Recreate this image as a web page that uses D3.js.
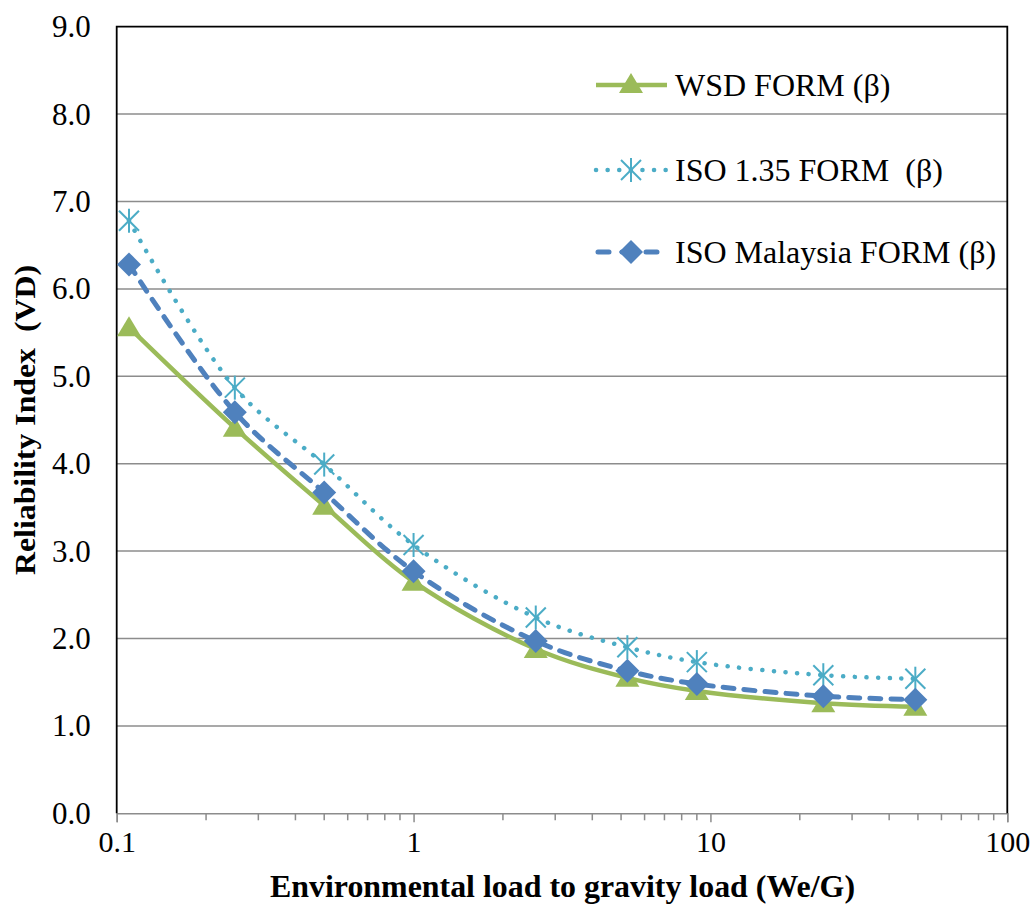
<!DOCTYPE html>
<html><head><meta charset="utf-8">
<script src="https://cdn.jsdelivr.net/npm/d3@7"></script>
<style>body{margin:0;background:#fff} text{white-space:pre}</style>
</head><body>
<svg id="c" width="1035" height="913"></svg>
<script>
const xValues = [0.11, 0.25, 0.5, 1.0, 2.58, 5.25, 9.0, 24, 49];
const wsd = [5.56, 4.41, 3.52, 2.65, 1.88, 1.55, 1.40, 1.26, 1.22];
const iso135 = [6.78, 4.87, 3.99, 3.07, 2.24, 1.90, 1.73, 1.58, 1.54];
const isoMalaysia = [6.28, 4.59, 3.67, 2.77, 1.97, 1.63, 1.48, 1.34, 1.30];
const seriesNames = ["WSD FORM (\u03b2)", "ISO 1.35 FORM  (\u03b2)", "ISO Malaysia FORM (\u03b2)"];
const yTicks = [0,1,2,3,4,5,6,7,8,9];
const xTicks = [0.1, 1, 10, 100];
const xTitle = "Environmental load to gravity load (We/G)";
const yTitle = "Reliability Index  (VD)";

const svg = d3.select("#c");
const L = 116.7, R = 1007.3, T = 26.7, B = 813.3;
const x = d3.scaleLog().domain([0.1, 100]).range([L, R]);
const y = d3.scaleLinear().domain([0, 9]).range([B, T]);
const font = "'Liberation Serif','Times New Roman',serif";

// gridlines
svg.append("g").selectAll("line").data(yTicks.filter(d => d > 0 && d < 9)).join("line")
  .attr("x1", L).attr("x2", R).attr("y1", d => y(d)).attr("y2", d => y(d))
  .attr("stroke", "#8c8c8c").attr("stroke-width", 1.5);

// bottom axis
const xAxis = d3.axisBottom(x).tickValues(xTicks).tickSize(9).tickFormat(d => d3.format("~g")(d));
const gx = svg.append("g").attr("transform", `translate(0,${B})`).call(xAxis);
gx.select(".domain").attr("stroke", "#8c8c8c").attr("stroke-width", 1.5);
gx.selectAll(".tick line").attr("stroke", "#8c8c8c").attr("stroke-width", 1.5);
gx.selectAll(".tick text").attr("font-family", font).attr("font-size", 30).attr("fill", "#000").attr("dy", "0.71em").attr("y", 17);
// minor ticks
const minors = [];
[0.1, 1, 10].forEach(b => { for (let k = 2; k <= 9; k++) minors.push(b * k); });
svg.append("g").selectAll("line").data(minors).join("line")
  .attr("x1", d => x(d)).attr("x2", d => x(d)).attr("y1", B).attr("y2", B + 7)
  .attr("stroke", "#8c8c8c").attr("stroke-width", 1.5);

// left axis labels
const yAxis = d3.axisLeft(y).tickValues(yTicks).tickSize(0).tickPadding(26).tickFormat(d3.format(".1f"));
const gy = svg.append("g").attr("transform", `translate(${L},0)`).call(yAxis);
gy.select(".domain").remove();
gy.selectAll(".tick text").attr("font-family", font).attr("font-size", 31).attr("fill", "#000");

// frame lines: left, top, right in black
svg.append("path").attr("d", `M${L},${B}V${T}H${R}V${B}`).attr("fill", "none")
  .attr("stroke", "#000").attr("stroke-width", 1.8);

// series
const curve = d3.curveCatmullRom.alpha(0.5);
const mk = vals => vals.map((v, i) => [xValues[i], v]);
const line = d3.line().x(d => x(d[0])).y(d => y(d[1])).curve(curve);

const green = "#9BBB59", cyan = "#4BACC6", blue = "#4F81BD";

svg.append("path").datum(mk(wsd)).attr("d", line).attr("fill", "none")
  .attr("stroke", green).attr("stroke-width", 4.5);
svg.append("path").datum(mk(iso135)).attr("d", line).attr("fill", "none")
  .attr("stroke", cyan).attr("stroke-width", 4.5).attr("stroke-dasharray", "0.1 11.5").attr("stroke-linecap", "round");
svg.append("path").datum(mk(isoMalaysia)).attr("d", line).attr("fill", "none")
  .attr("stroke", blue).attr("stroke-width", 5).attr("stroke-dasharray", "11 10").attr("stroke-linecap", "round");

function triangle(g, cx, cy) {
  g.append("path").attr("d", `M${cx},${cy - 11}L${cx + 12},${cy + 9}L${cx - 12},${cy + 9}Z`).attr("fill", green);
}
function star(g, cx, cy) {
  const s = 10, p = g.append("g").attr("stroke", cyan).attr("stroke-width", 2);
  p.append("line").attr("x1", cx - s).attr("y1", cy - s).attr("x2", cx + s).attr("y2", cy + s);
  p.append("line").attr("x1", cx - s).attr("y1", cy + s).attr("x2", cx + s).attr("y2", cy - s);
  p.append("line").attr("x1", cx).attr("y1", cy - s - 2).attr("x2", cx).attr("y2", cy + s + 2);
}
function diamond(g, cx, cy) {
  g.append("path").attr("d", `M${cx},${cy - 12}L${cx + 12},${cy}L${cx},${cy + 12}L${cx - 12},${cy}Z`).attr("fill", blue);
}
const gm = svg.append("g");
wsd.forEach((v, i) => triangle(gm, x(xValues[i]), y(v)));
iso135.forEach((v, i) => star(gm, x(xValues[i]), y(v)));
isoMalaysia.forEach((v, i) => diamond(gm, x(xValues[i]), y(v)));

// legend
const lg = svg.append("g");
const rows = [85, 170, 252];
const lx1 = 596, lx2 = 667, lcx = 631;
lg.append("line").attr("x1", lx1).attr("x2", lx2).attr("y1", rows[0]).attr("y2", rows[0]).attr("stroke", green).attr("stroke-width", 4.5);
triangle(lg, lcx, rows[0] - 1);
lg.append("line").attr("x1", lx1).attr("x2", lx2).attr("y1", rows[1]).attr("y2", rows[1]).attr("stroke", cyan).attr("stroke-width", 4.5).attr("stroke-dasharray", "0.1 11.5").attr("stroke-linecap", "round");
star(lg, lcx, rows[1]);
lg.append("line").attr("x1", lx1 + 2).attr("x2", lx2 - 2).attr("y1", rows[2]).attr("y2", rows[2]).attr("stroke", blue).attr("stroke-width", 5).attr("stroke-dasharray", "11 13").attr("stroke-linecap", "round");
diamond(lg, lcx, rows[2]);
lg.selectAll("text").data(seriesNames).join("text")
  .attr("x", 675).attr("y", (d, i) => rows[i]).attr("dy", "0.33em")
  .attr("font-family", font).attr("font-size", 32).attr("fill", "#000").text(d => d);

// axis titles
svg.append("text").attr("x", 562.5).attr("y", 897).attr("text-anchor", "middle")
  .attr("font-family", font).attr("font-size", 32).attr("font-weight", "bold")
  .attr("textLength", 585).attr("lengthAdjust", "spacingAndGlyphs").text(xTitle);
svg.append("text").attr("transform", "translate(35,420) rotate(-90)").attr("text-anchor", "middle")
  .attr("font-family", font).attr("font-size", 30).attr("font-weight", "bold")
  .attr("textLength", 310).attr("lengthAdjust", "spacingAndGlyphs").text(yTitle);
</script>
</body></html>
